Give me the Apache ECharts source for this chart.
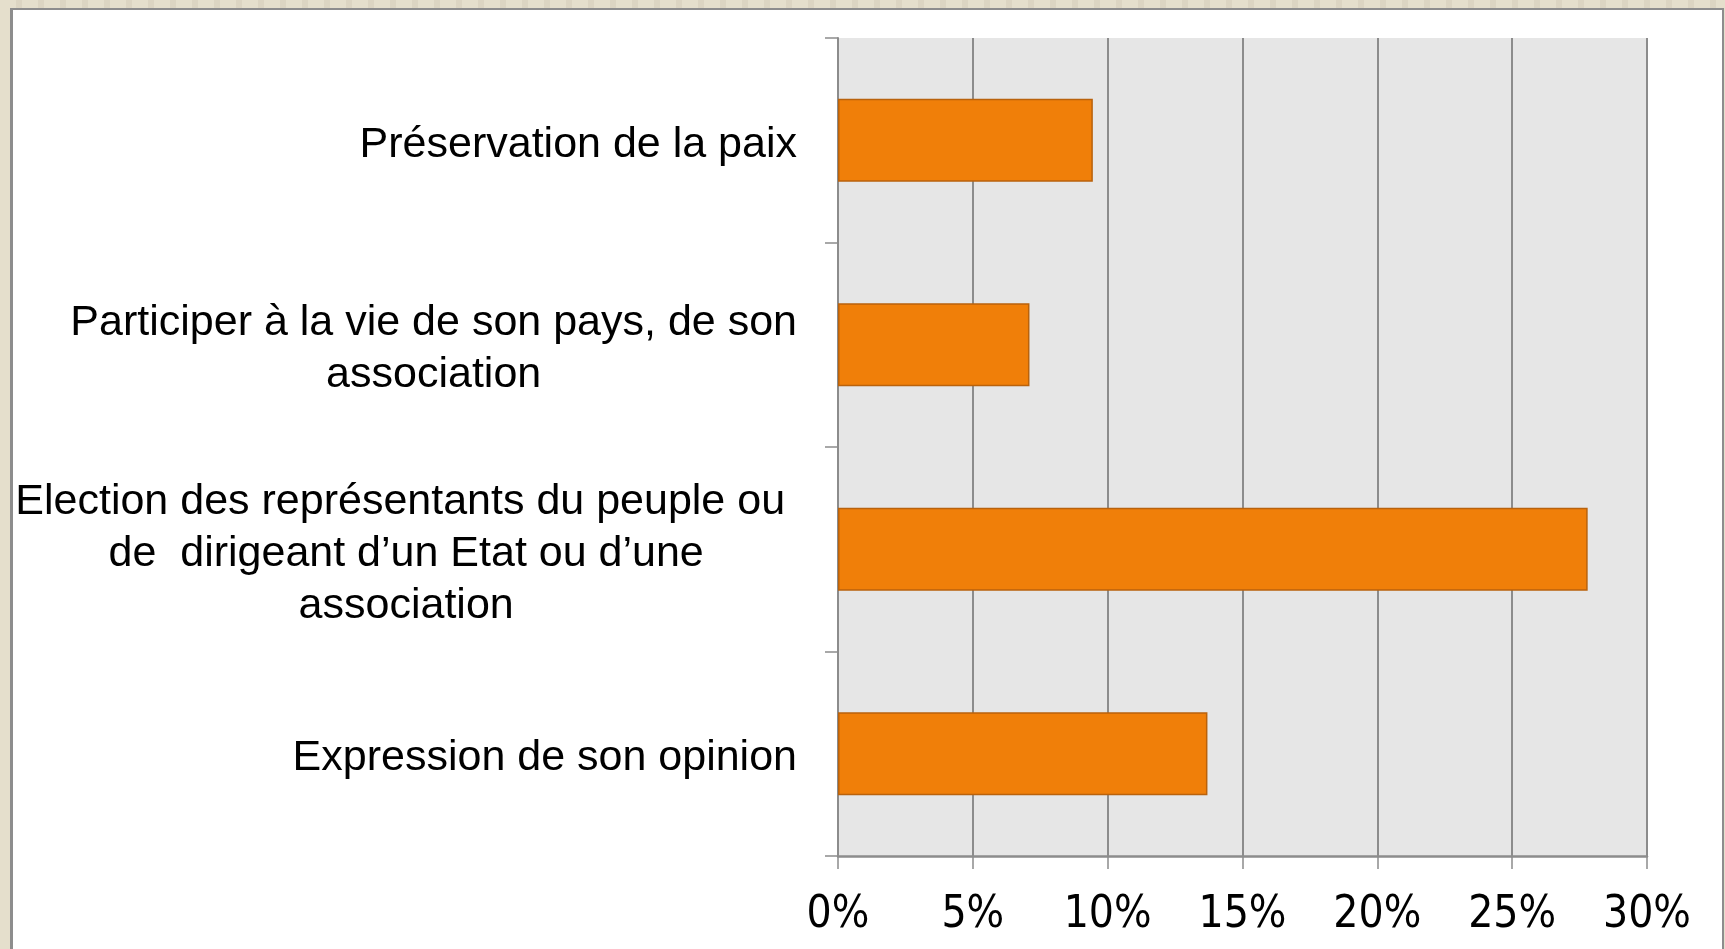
<!DOCTYPE html>
<html>
<head>
<meta charset="utf-8">
<script src="https://cdn.jsdelivr.net/npm/echarts@6/dist/echarts.min.js"></script>
<style>
  html, body {
    margin: 0;
    padding: 0;
    width: 1725px;
    height: 949px;
    overflow: hidden;
    background: repeating-linear-gradient(90deg, #e5dfcc 0px, #e5dfcc 16px, #dcd5c2 16px, #dcd5c2 22px);
  }
  #frame {
    position: absolute;
    left: 10px;
    top: 8px;
    right: 1px;
    bottom: -20px;
    background: #fff;
    border: 2px solid #8d8d8d;
    border-left-width: 3px;
    box-sizing: border-box;
  }
  #chart {
    position: absolute;
    left: 0;
    top: 0;
    width: 1725px;
    height: 949px;
  }
</style>
</head>
<body>
<div id="frame"></div>
<div id="chart"></div>
<script>
// categories, top to bottom
const categories = [
  'Préservation de la paix',
  'Participer à la vie de son pays, de son\nassociation',
  'Election des représentants du peuple ou \nde  dirigeant d’un Etat ou d’une\nassociation',
  'Expression de son opinion'
]
// share of answers, in %
const values = [9.45, 7.1, 27.8, 13.7]
// x axis ticks
const xMin = 0
const xMax = 30
const xStep = 5

const gridColor = '#8c8c8c'

const chart = echarts.init(document.getElementById('chart'))
chart.setOption({
  backgroundColor: 'transparent',
  animation: false,
  grid: {
    left: 838,
    top: 38,
    right: 78,
    bottom: 93,
    show: true,
    backgroundColor: '#e6e6e6',
    borderWidth: 0,
    containLabel: false,
    outerBoundsMode: 'none'
  },
  xAxis: {
    type: 'value',
    min: xMin,
    max: xMax,
    interval: xStep,
    axisLine: {
      show: true,
      lineStyle: { color: gridColor, width: 2.5 }
    },
    axisTick: {
      show: true,
      length: 13,
      lineStyle: { color: gridColor, width: 1.5 }
    },
    axisLabel: {
      formatter: '{value}%',
      margin: 38,
      color: '#000',
      fontSize: 44,
      fontFamily: "'Liberation Sans Narrow', 'DejaVu Sans Condensed', 'Liberation Sans', sans-serif"
    },
    splitLine: {
      show: true,
      lineStyle: { color: gridColor, width: 2 }
    }
  },
  yAxis: {
    type: 'category',
    data: categories,
    inverse: true,
    axisLine: {
      show: true,
      lineStyle: { color: gridColor, width: 2 }
    },
    axisTick: {
      show: true,
      length: 13,
      lineStyle: { color: gridColor, width: 1.5 }
    },
    axisLabel: {
      interval: 0,
      margin: 41,
      padding: [9, 0, 0, 0],
      formatter: v => '{c|' + v + '}',
      rich: {
        c: {
          align: 'center',
          color: '#000',
          fontSize: 43,
          lineHeight: 52,
          fontFamily: "'Liberation Sans', Arial, sans-serif"
        }
      }
    },
    splitLine: { show: false }
  },
  series: [{
    type: 'bar',
    data: values,
    barWidth: '40.6%',
    itemStyle: {
      color: '#f07f09',
      borderColor: '#b9620c',
      borderWidth: 1.5
    }
  }]
})
</script>
</body>
</html>
